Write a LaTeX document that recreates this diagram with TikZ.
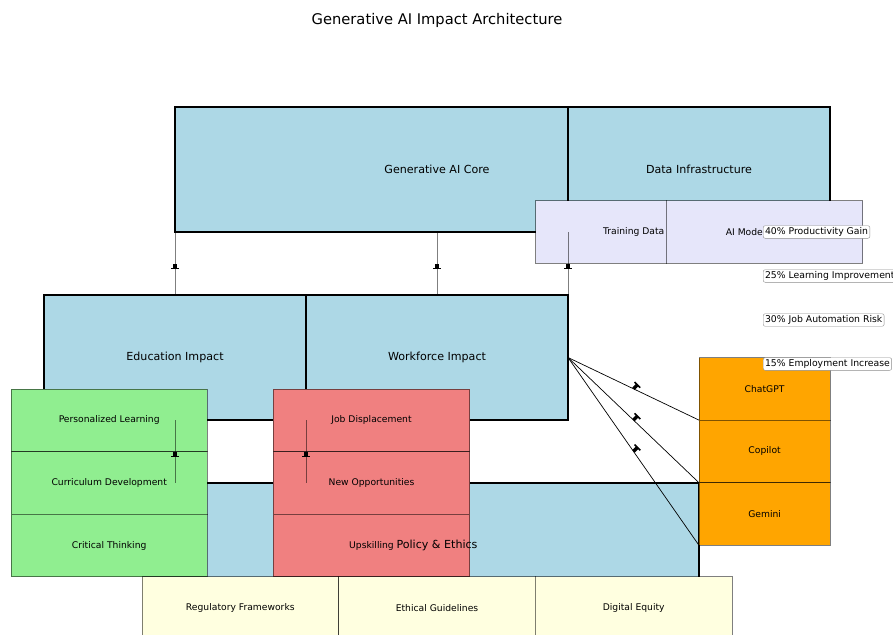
\documentclass[tikz,border=0pt]{standalone}
\usepackage{fontspec}
\setmainfont{DejaVu Sans}
\usetikzlibrary{calc,decorations.markings}
\definecolor{lblue}{HTML}{ADD8E6}
\definecolor{lav}{HTML}{E6E6FA}
\definecolor{lgreen}{HTML}{90EE90}
\definecolor{lcoral}{HTML}{F08080}
\definecolor{lyellow}{HTML}{FFFFE0}
\definecolor{orng}{HTML}{FFA500}
\begin{document}
\begin{tikzpicture}[x=1pt,y=-1pt,
  bigbox/.style={draw=black, line width=1.5pt, fill=lblue, inner sep=0pt, outer sep=0pt, minimum height=125pt},
  cell/.style={draw=black, draw opacity=0.5, line width=0.8pt, inner sep=0pt, outer sep=0pt, minimum height=62.6pt},
  bigtxt/.style={font=\fontsize{11.1}{13}\selectfont, inner sep=0pt},
  smalltxt/.style={font=\fontsize{9.2}{11}\selectfont, inner sep=0pt},
  statlbl/.style={draw=black!45, fill=white, rounded corners=2pt, inner xsep=1.8pt, inner ysep=1.8pt, anchor=west, font=\fontsize{9.3}{11}\selectfont},
  vconn/.style={draw=black, draw opacity=0.5, line width=0.9pt, postaction={decorate},
    decoration={markings, mark=at position 0.5 with {
      \fill[black, fill opacity=1] (0pt,-1.8pt) rectangle (4.8pt,1.8pt);
      \draw[black, draw opacity=1, line width=1.4pt] (4.8pt,-3.8pt) -- (4.8pt,3.8pt);}}},
  dconn/.style={draw=black, line width=0.7pt, postaction={decorate},
    decoration={markings, mark=at position 0.5 with {
      \pgftransformresetnontranslations
      \draw[black, line width=3.4pt] (0pt,0pt) -- (45:5.6pt);
      \draw[black, line width=1.6pt] ($(45:5.6pt)+(135:4pt)$) -- ($(45:5.6pt)+(-45:4pt)$);}}}
]
\useasboundingbox (0,0) rectangle (893,634);

% title
\node[font=\fontsize{14.7}{17}\selectfont] (title) at (437,20) {Generative AI Impact Architecture};

% big boxes
\node[bigbox, minimum width=524pt] (core) at (437,169.5) {};
\node[bigbox, minimum width=262pt] (data) at (699,169.5) {};
\node[bigbox, minimum width=262pt] (edu) at (175,357.5) {};
\node[bigbox, minimum width=262pt] (work) at (437,357.5) {};
\node[bigbox, minimum width=524pt] (policy) at (437,545.5) {};

% data sub-cells
\node[cell, fill=lav, minimum width=130.8pt] (train) at (601,232) {};
\node[cell, fill=lav, minimum width=196.4pt] (models) at (764.5,232) {};

% education cells
\node[cell, fill=lgreen, minimum width=196.4pt] (pers) at (109.2,420.3) {};
\node[cell, fill=lgreen, minimum width=196.4pt] (curr) at (109.2,482.9) {};
\node[cell, fill=lgreen, minimum width=196.4pt] (crit) at (109.2,545.5) {};

% workforce cells
\node[cell, fill=lcoral, minimum width=196.4pt] (jobd) at (371.5,420.3) {};
\node[cell, fill=lcoral, minimum width=196.4pt] (newo) at (371.5,482.9) {};
\node[cell, fill=lcoral, minimum width=196.4pt] (upsk) at (371.5,545.5) {};

% policy cells
\node[cell, fill=lyellow, minimum width=196.7pt] (regf) at (240.3,608) {};
\node[cell, fill=lyellow, minimum width=196.7pt] (ethg) at (437,608) {};
\node[cell, fill=lyellow, minimum width=196.7pt] (digi) at (633.7,608) {};

% tools cells
\node[cell, fill=orng, minimum width=131.3pt] (chat) at (764.6,388.8) {};
\node[cell, fill=orng, minimum width=131.3pt] (copi) at (764.6,451.4) {};
\node[cell, fill=orng, minimum width=131.3pt] (gemi) at (764.6,514.0) {};

% connectors
\draw[vconn] (core.south west) -- (edu.north);
\draw[vconn] (core.south) -- (work.north);
\draw[vconn] ($(core.south west)!0.75!(core.south east)$) -- (work.north east);
\draw[vconn] (edu.south) -- (policy.north west);
\draw[vconn] (edu.south east) -- ($(policy.north west)!0.25!(policy.north east)$);
\draw[dconn] (work.east) -- (chat.south west);
\draw[dconn] (work.east) -- (copi.south west);
\draw[dconn] (work.east) -- (gemi.south west);

% texts
\node[bigtxt] (tcore) at (core) {Generative AI Core};
\node[bigtxt] (tdata) at (data) {Data Infrastructure};
\node[bigtxt] (tedu) at (edu) {Education Impact};
\node[bigtxt] (twork) at (work) {Workforce Impact};
\node[smalltxt] (ttrain) at (633.7,232) {Training Data};
\node[smalltxt] (tmodels) at (748,232) {AI Models};
\node[smalltxt] (tpers) at (pers) {Personalized Learning};
\node[smalltxt] (tcurr) at (curr) {Curriculum Development};
\node[smalltxt] (tcrit) at (crit) {Critical Thinking};
\node[smalltxt] (tjobd) at (jobd) {Job Displacement};
\node[smalltxt] (tnewo) at (newo) {New Opportunities};
\node[smalltxt] (tupsk) at (upsk) {Upskilling};
\node[bigtxt] (tpolicy) at (policy) {Policy \& Ethics};
\node[smalltxt] (tregf) at (regf) {Regulatory Frameworks};
\node[smalltxt] (tethg) at (ethg) {Ethical Guidelines};
\node[smalltxt] (tdigi) at (digi) {Digital Equity};
\node[smalltxt] (tchat) at (chat) {ChatGPT};
\node[smalltxt] (tcopi) at (copi) {Copilot};
\node[smalltxt] (tgemi) at (gemi) {Gemini};

% stat labels
\node[statlbl] (s1) at (763,232) {40\% Productivity Gain};
\node[statlbl] (s2) at (763,276) {25\% Learning Improvement};
\node[statlbl] (s3) at (763,320) {30\% Job Automation Risk};
\node[statlbl] (s4) at (763,364) {15\% Employment Increase};
\end{tikzpicture}
\end{document}
